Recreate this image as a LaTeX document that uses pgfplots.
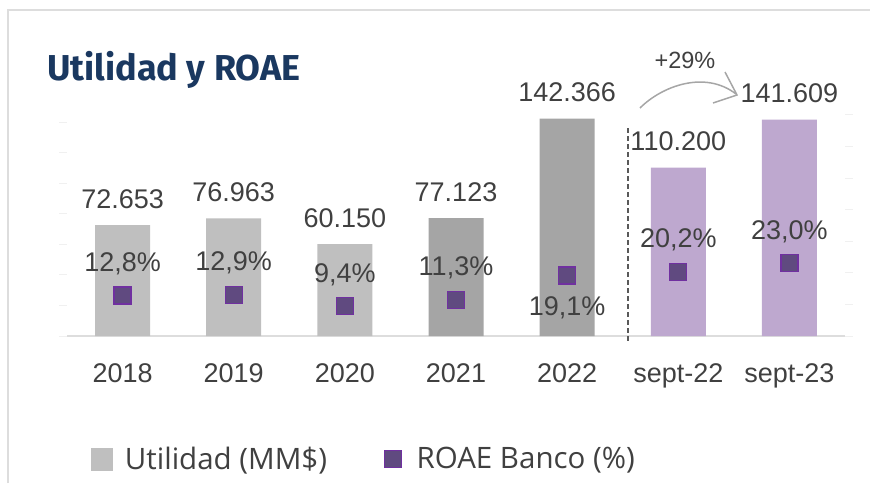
\documentclass[border=0pt]{standalone}
\usepackage{pgfplots}
\usepackage{pgfplotstable}
\pgfplotsset{compat=1.18}
\usepackage{fontspec}
\setmainfont{Liberation Sans}
\newfontfamily\legfont{Open Sans}
\newfontfamily\titlefont{Fira Sans}

\definecolor{lgray}{RGB}{191,191,191}
\definecolor{dgray}{RGB}{165,165,165}
\definecolor{lpurp}{RGB}{190,168,207}
\definecolor{sqfill}{RGB}{96,74,128}
\definecolor{sqedge}{RGB}{112,48,160}
\definecolor{txt}{RGB}{64,64,64}
\definecolor{ttl}{RGB}{26,56,96}
\definecolor{framec}{RGB}{221,221,221}
\definecolor{faint}{RGB}{240,240,240}
\definecolor{arrowc}{RGB}{166,166,166}
\definecolor{dashc}{RGB}{89,89,89}

\pgfplotstableread{
x y
0 72653
1 76963
2 60150
}\lighttab
\pgfplotstableread{
x y
3 77123
4 142366
}\darktab
\pgfplotstableread{
x y
5 110200
6 141609
}\purptab
\pgfplotstableread{
x r off
0 12.8 32
1 12.9 32
2 9.4 32
3 11.3 32
4 19.1 -32
5 20.2 32
6 23.0 32
}\roaetab

\begin{document}
\begin{tikzpicture}[x=1pt,y=1pt]
\path[use as bounding box] (0,0) rectangle (870,-483);
\draw[framec, line width=2pt] (8,-483) -- (8,-10) -- (870,-10);
\node[anchor=base west, inner sep=0pt, font=\titlefont\bfseries\fontsize{36}{42}\selectfont, text=ttl] at (47,-80) {Utilidad y ROAE};

\begin{axis}[
  at={(67pt,-336pt)}, anchor=south west,
  scale only axis, width=778pt, height=231pt,
  xmin=-0.5, xmax=6.5, ymin=0, ymax=151200,
  scaled y ticks=false,
  axis x line*=bottom, axis y line*=left,
  x axis line style={framec, line width=1.5pt, -},
  y axis line style={draw=none},
  xtick={0,...,6},
  xticklabels={2018,2019,2020,2021,2022,sept-22,sept-23},
  x tick style={draw=none},
  xticklabel style={font=\fontsize{27}{30}\selectfont, text=txt, anchor=base, yshift=-38pt},
  ytick={0,20000,...,140000},
  yticklabels={},
  y tick style={faint, line width=1pt},
  major tick length=8pt, tick align=outside,
  ybar, bar width=55pt, bar shift=0pt,
  nodes near coords={\pgfmathprintnumber[assume math mode=true,fixed,precision=0,1000 sep={.}]{\pgfplotspointmeta}},
  every node near coord/.append style={anchor=south, inner sep=0pt, yshift=16.5pt, font=\fontsize{27}{30}\selectfont, text=txt},
  legend columns=2,
  legend style={draw=none, fill=none, inner sep=0pt, outer sep=0pt,
    at={(axis description cs:0.0308,-0.5325)}, anchor=west,
    font=\legfont\fontsize{29.5}{34}\selectfont, text=txt,
    nodes={inner sep=0pt},
    /tikz/every odd column/.append style={column sep=12pt},
    /tikz/every even column/.append style={column sep=57pt}},
]
\addplot[fill=lgray, draw=none, legend image code/.code={\fill[lgray] (0pt,-11.5pt) rectangle (22pt,11.5pt);}] table[x=x,y=y]{\lighttab};
\addplot[fill=dgray, draw=none, forget plot] table[x=x,y=y]{\darktab};
\addplot[fill=lpurp, draw=none, forget plot] table[x=x,y=y]{\purptab};
\addlegendentry{Utilidad (MM\$)}
\addlegendimage{legend image code/.code={\draw[fill=sqfill, draw=sqedge, line width=1.2pt] (0pt,-8.5pt) rectangle (17pt,8.5pt); \path[draw=none, fill=none] (0pt,0pt) -- (20pt,0pt);}}
\addlegendentry{ROAE Banco (\%)}
\end{axis}

\begin{axis}[
  at={(67pt,-336pt)}, anchor=south west,
  scale only axis, width=778pt, height=231pt,
  xmin=-0.5, xmax=6.5, ymin=0, ymax=73.1,
  axis x line=none, axis y line*=right,
  y axis line style={draw=none},
  ytick={0,10,...,70}, yticklabels={},
  y tick style={faint, line width=1pt},
  major tick length=8pt, tick align=outside,
]
\addplot[only marks, mark=square*, mark size=8.5pt,
  mark options={fill=sqfill, draw=sqedge, line width=1.3pt},
  visualization depends on={\thisrow{off}\as\myoff},
  nodes near coords={\pgfmathprintnumber[assume math mode=true,fixed,fixed zerofill,precision=1,use comma]{\pgfplotspointmeta}\%},
  every node near coord/.append style={anchor=center, inner sep=0pt, yshift=\myoff pt, font=\fontsize{27}{30}\selectfont, text=txt}
] table[x=x,y=r]{\roaetab};
\end{axis}

\draw[dashc, line width=1.8pt, dash pattern=on 5pt off 3pt] (628,-128) -- (628,-342);
\draw[arrowc, line width=1.5pt] (640,-108) .. controls (662,-86) and (705,-70) .. (736,-94);
\draw[arrowc, line width=1.5pt] (725,-72) -- (737,-95) -- (713,-103);
\node[font=\fontsize{23.5}{26}\selectfont, text=txt] at (685,-60) {+29\%};
\end{tikzpicture}
\end{document}
